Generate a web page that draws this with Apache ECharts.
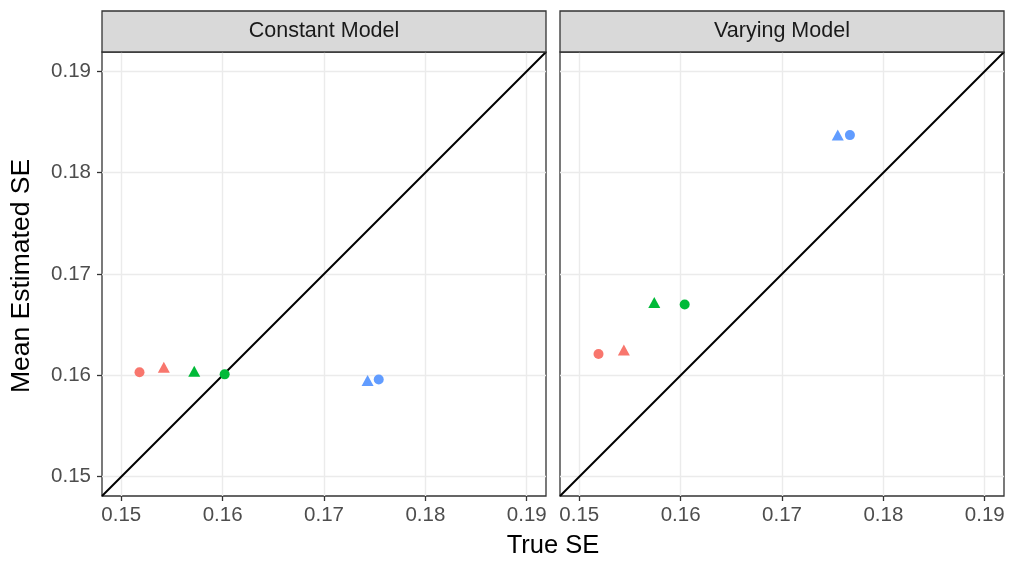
<!DOCTYPE html>
<html>
<head>
<meta charset="utf-8">
<script src="https://cdn.jsdelivr.net/npm/echarts@6/dist/echarts.min.js"></script>
<style>
  html, body { margin: 0; padding: 0; background: #fff; }
  #chart { width: 1011px; height: 561px; }
</style>
</head>
<body>
<div id="chart"></div>
<script>
// panels
const panelNames = ['Constant Model', 'Varying Model'];
// colours of the three groups (red, green, blue)
const groupColors = ['#F8766D', '#00BA38', '#619CFF'];

// Constant Model
const constCircleX = [0.1518, 0.1602, 0.1754];
const constCircleY = [0.1603, 0.1601, 0.1596];
const constTriX = [0.1542, 0.1572, 0.1743];
const constTriY = [0.1608, 0.1604, 0.1595];

// Varying Model
const varyCircleX = [0.1519, 0.1604, 0.1767];
const varyCircleY = [0.1621, 0.1670, 0.1837];
const varyTriX = [0.1544, 0.1574, 0.1755];
const varyTriY = [0.1625, 0.1672, 0.1837];

// axes
const axisMin = 0.1481;
const axisMax = 0.1919;
const tickVals = [0.15, 0.16, 0.17, 0.18, 0.19];
const minorVals = [0.155, 0.165, 0.175, 0.185];
const diagLine = [[axisMin, axisMin], [axisMax, axisMax]];

const FONT = 'Liberation Sans, Arial, sans-serif';

function pts(xs, ys) {
    return xs.map((x, i) => ({
        value: [x, ys[i]],
        itemStyle: { color: groupColors[i], opacity: 1 }
    }));
}

function gridLines(idx) {
    const major = { color: '#EBEBEB', width: 1.4, type: 'solid' };
    const minor = { color: '#EBEBEB', width: 0.7, type: 'solid' };
    const data = [];
    minorVals.forEach(v => {
        data.push({ xAxis: v, lineStyle: minor });
        data.push({ yAxis: v, lineStyle: minor });
    });
    tickVals.forEach(v => {
        data.push({ xAxis: v, lineStyle: major });
        data.push({ yAxis: v, lineStyle: major });
    });
    return {
        type: 'line',
        xAxisIndex: idx,
        yAxisIndex: idx,
        data: [],
        silent: true,
        z: 1,
        markLine: {
            silent: true,
            symbol: 'none',
            animation: false,
            z: 1,
            label: { show: false },
            emphasis: { disabled: true },
            data: data
        }
    };
}

function makeAxis(idx, dir) {
    const showLabels = dir === 'x' || idx === 0;
    return {
        type: 'value',
        gridIndex: idx,
        min: axisMin,
        max: axisMax,
        splitLine: { show: false },
        axisLine: { show: false },
        axisTick: {
            show: showLabels,
            customValues: tickVals,
            length: 5,
            lineStyle: { color: '#333333', width: 1.3 }
        },
        axisLabel: {
            show: showLabels,
            customValues: tickVals,
            formatter: v => v.toFixed(2),
            color: '#4D4D4D',
            fontSize: 20.5,
            fontFamily: FONT,
            margin: dir === 'x' ? 9 : 11
        }
    };
}

const grids = [
    { left: 102, top: 52, width: 444, height: 444 },
    { left: 560, top: 52, width: 444, height: 444 }
].map(g => Object.assign(g, { show: true, borderColor: '#333333', borderWidth: 1.3, backgroundColor: '#fff', z: 0 }));

const panelData = [
    [constCircleX, constCircleY, constTriX, constTriY],
    [varyCircleX, varyCircleY, varyTriX, varyTriY]
];

const series = [];
panelData.forEach((p, idx) => {
    series.push(gridLines(idx));
    series.push({
        type: 'line',
        xAxisIndex: idx,
        yAxisIndex: idx,
        data: diagLine,
        showSymbol: false,
        lineStyle: { color: '#000', width: 2 },
        silent: true,
        z: 3
    });
    series.push({
        type: 'scatter',
        xAxisIndex: idx,
        yAxisIndex: idx,
        symbol: 'circle',
        symbolSize: 10,
        data: pts(p[0], p[1]),
        z: 4
    });
    series.push({
        type: 'scatter',
        xAxisIndex: idx,
        yAxisIndex: idx,
        symbol: 'triangle',
        symbolSize: [12, 11],
        data: pts(p[2], p[3]),
        z: 4
    });
});

const graphic = [];
grids.forEach((g, i) => {
    graphic.push({
        type: 'rect',
        shape: { x: g.left, y: 11, width: g.width, height: 41 },
        style: { fill: '#D9D9D9', stroke: '#333333', lineWidth: 1.3 },
        z: 10
    });
    graphic.push({
        type: 'text',
        x: g.left + g.width / 2,
        y: 31.5,
        style: {
            text: panelNames[i],
            fill: '#1A1A1A',
            font: '21.5px ' + FONT,
            textAlign: 'center',
            textVerticalAlign: 'middle'
        },
        z: 11
    });
});
graphic.push({
    type: 'text',
    x: 553,
    y: 546,
    style: {
        text: 'True SE',
        fill: '#000',
        font: '25.5px ' + FONT,
        textAlign: 'center',
        textVerticalAlign: 'middle'
    }
});
graphic.push({
    type: 'text',
    x: 22,
    y: 276,
    rotation: Math.PI / 2,
    style: {
        text: 'Mean Estimated SE',
        fill: '#000',
        font: '26.5px ' + FONT,
        textAlign: 'center',
        textVerticalAlign: 'middle'
    }
});

const myChart = echarts.init(document.getElementById('chart'));
myChart.setOption({
    animation: false,
    grid: grids,
    xAxis: [makeAxis(0, 'x'), makeAxis(1, 'x')],
    yAxis: [makeAxis(0, 'y'), makeAxis(1, 'y')],
    series: series,
    graphic: graphic
});
</script>
</body>
</html>
